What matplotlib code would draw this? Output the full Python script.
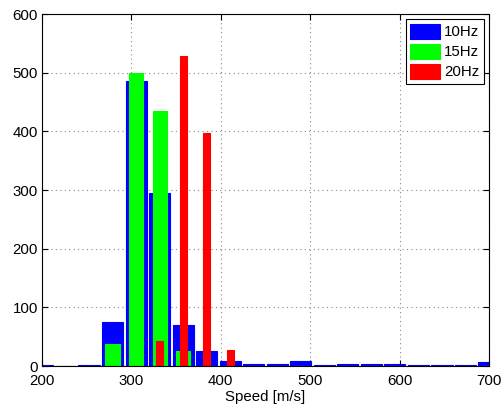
import matplotlib
matplotlib.use("Agg")
import matplotlib.pyplot as plt

# bin centres (20 bins between 200 and 700 m/s)
bin_centers = [200.0, 226.3, 252.6, 278.9, 305.3, 331.6, 357.9, 384.2, 410.5, 436.8,
               463.2, 489.5, 515.8, 542.1, 568.4, 594.7, 621.1, 647.4, 673.7, 700.0]

counts_10hz = [1, 0, 1, 75, 485, 295, 70, 25, 8, 3, 3, 8, 1, 3, 3, 3, 1, 1, 1, 6]
counts_15hz = [0, 0, 0, 37, 500, 435, 25, 0, 0, 0, 0, 0, 0, 0, 0, 0, 0, 0, 0, 0]
counts_20hz = [0, 0, 0, 0, 0, 43, 528, 398, 27, 0, 0, 0, 0, 0, 0, 0, 0, 0, 0, 0]

labels = ["10Hz", "15Hz", "20Hz"]
colors = ["#0000ff", "#00ff00", "#ff0000"]
widths = [23.7, 15.8, 7.9]

FS = 10.8
plt.rcParams["font.family"] = ["Liberation Sans", "DejaVu Sans"]

fig = plt.figure(figsize=(5.04, 4.08), dpi=100)
ax = fig.add_axes([42 / 504, 42 / 408, (489 - 42) / 504, (366 - 14) / 408])

for vals, col, w, lab in zip([counts_10hz, counts_15hz, counts_20hz], colors, widths, labels):
    ax.bar(bin_centers, vals, width=w, color=col, edgecolor=col, linewidth=0.8,
           label=lab, zorder=2)

ax.set_xlim(200, 700)
ax.set_ylim(0, 600)
ax.set_xticks([200, 300, 400, 500, 600, 700])
ax.set_yticks([0, 100, 200, 300, 400, 500, 600])
ax.grid(True, linestyle=(0, (1, 3)), color="#888888", linewidth=0.8, zorder=0)
ax.set_axisbelow(True)
ax.tick_params(direction="in", top=True, right=True, labelsize=FS, length=4)
ax.tick_params(axis="x", pad=6)
ax.tick_params(axis="y", pad=3)
for sp in ax.spines.values():
    sp.set_color("black")
    sp.set_linewidth(0.8)
    sp.set_zorder(3)
ax.set_xlabel("Speed [m/s]", fontsize=FS, labelpad=1)

leg = ax.legend(loc="upper right", fancybox=False, edgecolor="black", framealpha=1,
                fontsize=FS, handlelength=2.0, handleheight=1.15,
                borderaxespad=0.35, labelspacing=0.3, handletextpad=0.25,
                borderpad=0.3)
leg.get_frame().set_linewidth(0.8)

fig.savefig("out.png", dpi=100)
